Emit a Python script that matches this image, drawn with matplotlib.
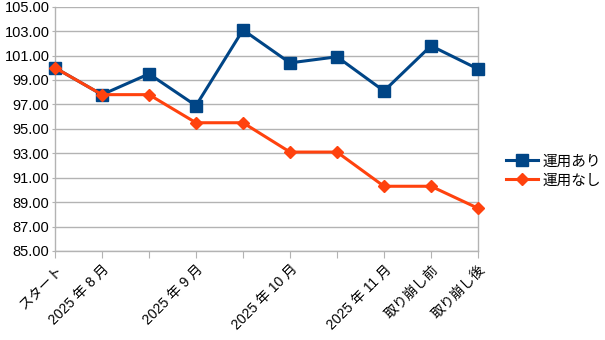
import matplotlib
matplotlib.use("Agg")
import matplotlib.pyplot as plt

plt.rcParams['font.family'] = ['Liberation Sans', 'Noto Sans CJK JP', 'DejaVu Sans']

categories = ["スタート", "2025 年 8 月", "", "2025 年 9 月", "", "2025 年 10 月", "",
              "2025 年 11 月", "取り崩し前", "取り崩し後"]
with_investment = [100.0, 97.8, 99.5, 96.9, 103.1, 100.4, 100.9, 98.1, 101.8, 99.9]
without_investment = [100.0, 97.8, 97.8, 95.5, 95.5, 93.1, 93.1, 90.3, 90.3, 88.5]
series_names = ["運用あり", "運用なし"]
y_ticks = [85, 87, 89, 91, 93, 95, 97, 99, 101, 103, 105]

blue = "#004586"
orange = "#ff420e"
grid = "#b3b3b3"

fig = plt.figure(figsize=(6.05, 3.4), dpi=100)
ax = fig.add_axes([55 / 605, 1 - 251 / 340, (478 - 55) / 605, (251 - 6.7) / 340])

x = list(range(len(categories)))
ax.plot(x, with_investment, color=blue, lw=2.2, marker="s", ms=8.5,
        label=series_names[0], zorder=3, clip_on=False)
ax.plot(x, without_investment, color=orange, lw=2.2, marker="D", ms=6,
        label=series_names[1], zorder=3, clip_on=False)

ax.set_xlim(0, len(categories) - 1)
ax.set_ylim(85, 105)
ax.set_yticks(y_ticks)
ax.set_yticklabels([f"{v:.2f}" for v in y_ticks], fontsize=10.5)
ax.yaxis.grid(True, color=grid, lw=1)
ax.set_axisbelow(True)

ax.set_xticks(x)
ax.set_xticklabels(categories, rotation=45, ha="right", va="top",
                   rotation_mode="anchor", fontsize=10)
ax.tick_params(axis="x", length=5, color=grid, pad=3)
ax.tick_params(axis="y", length=2, color=grid, pad=2)

for s in ["left", "right", "bottom", "top"]:
    ax.spines[s].set_color(grid)
    ax.spines[s].set_linewidth(1)
ax.spines["top"].set_visible(False)

leg = fig.legend(loc="center left", bbox_to_anchor=(500 / 605, 1 - 171 / 340),
                 frameon=False, fontsize=10.5, handlelength=2.2,
                 handletextpad=0.3, labelspacing=0.35, borderaxespad=0)

fig.savefig("out.png", dpi=100)
